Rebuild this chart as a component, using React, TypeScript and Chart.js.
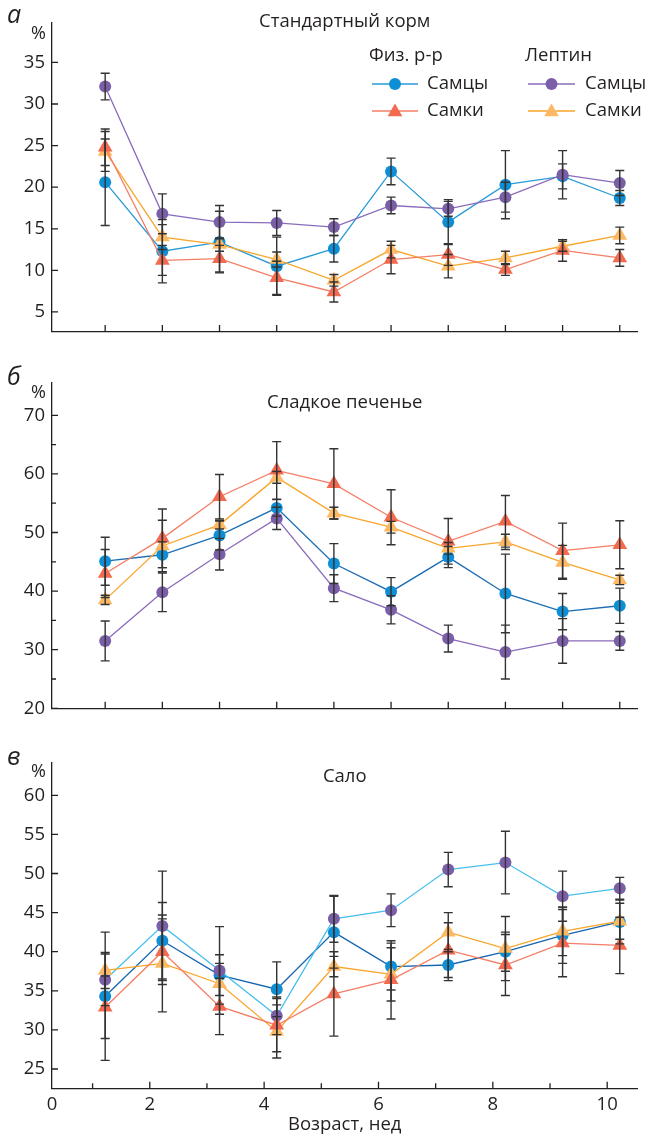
import React, { useEffect, useRef } from 'react';
import { Chart, registerables } from 'chart.js';

Chart.register(...registerables);

// ---------- data ----------
const weeks = [1.22, 2.22, 3.22, 4.22, 5.22, 6.22, 7.22, 8.22, 9.22, 10.22];
const xAxisStart = 0.29;
const xAxisEnd = 10.53;
const xWeekTicks = [1, 2, 3, 4, 5, 6, 7, 8, 9, 10];

// а — Стандартный корм
const aSalineMale = [20.6, 12.3, 13.4, 10.5, 12.6, 21.9, 15.8, 20.3, 21.3, 18.7];
const aSalineMaleErr = [5.2, 3.8, 3.7, 3.5, 1.6, 1.6, 2.7, 4.1, 1.5, 0.9];
const aSalineFemale = [24.8, 11.2, 11.4, 9.1, 7.4, 11.3, 11.9, 10.1, 12.4, 11.5];
const aSalineFemaleErr = [2.2, 1.8, 1.6, 2.0, 1.2, 1.7, 1.3, 0.7, 1.3, 1.0];
const aLeptinMale = [32.1, 16.8, 15.8, 15.7, 15.2, 17.8, 17.4, 18.8, 21.5, 20.5];
const aLeptinMaleErr = [1.6, 2.4, 2.0, 1.5, 1.0, 1.0, 0.9, 1.8, 2.9, 1.5];
const aLeptinFemale = [24.3, 14.0, 13.1, 11.3, 8.8, 12.5, 10.5, 11.5, 12.9, 14.2];
const aLeptinFemaleErr = [2.4, 1.5, 0.8, 0.9, 0.7, 1.0, 1.4, 0.8, 0.6, 1.0];

// б — Сладкое печенье
const bSalineMale = [45.1, 46.2, 49.5, 54.2, 44.7, 39.9, 45.8, 39.6, 36.5, 37.5];
const bSalineMaleErr = [4.1, 2.2, 2.5, 1.4, 3.4, 2.4, 1.8, 6.7, 3.1, 3.0];
const bSalineFemale = [43.0, 49.0, 56.1, 60.6, 58.3, 52.6, 48.5, 51.9, 46.9, 47.9];
const bSalineFemaleErr = [4.1, 5.0, 3.8, 4.9, 6.0, 4.7, 3.9, 4.4, 4.7, 4.1];
const bLeptinMale = [31.5, 39.8, 46.3, 52.4, 40.5, 36.8, 31.9, 29.6, 31.5, 31.5];
const bLeptinMaleErr = [3.4, 3.3, 2.7, 1.9, 2.3, 2.4, 2.3, 4.6, 3.8, 1.6];
const bLeptinFemale = [38.5, 47.7, 51.3, 59.4, 53.3, 50.9, 47.3, 48.4, 44.9, 41.9];
const bLeptinFemaleErr = [0.8, 4.4, 0.7, 1.0, 1.0, 1.0, 1.0, 1.3, 2.9, 0.8];

// в — Сало
const cSalineMale = [34.3, 41.4, 37.0, 35.2, 42.5, 38.1, 38.3, 40.0, 42.1, 43.8];
const cSalineMaleErr = [8.2, 4.9, 2.6, 3.5, 4.6, 3.0, 2.0, 2.5, 3.6, 2.8];
const cSalineFemale = [32.9, 40.0, 33.0, 30.6, 34.6, 36.4, 40.2, 38.3, 41.1, 40.8];
const cSalineFemaleErr = [4.0, 4.2, 3.6, 3.4, 5.4, 5.0, 3.5, 3.9, 4.3, 3.6];
const cLeptinMale = [36.4, 43.3, 37.6, 31.8, 44.2, 45.3, 50.5, 51.4, 47.1, 48.1];
const cLeptinMaleErr = [3.3, 7.0, 5.6, 2.4, 3.0, 2.1, 2.2, 4.0, 3.2, 1.4];
const cLeptinFemale = [37.6, 38.5, 35.9, 29.8, 38.1, 37.1, 42.5, 40.4, 42.6, 43.9];
const cLeptinFemaleErr = [2.3, 6.2, 2.6, 3.4, 1.3, 3.4, 2.5, 4.1, 3.1, 2.3];

const aYTicks = [5, 10, 15, 20, 25, 30, 35];
const bYTicks = [20, 30, 40, 50, 60, 70];
const bYMinor = [25, 35, 45, 55, 65];
const cYTicks = [25, 30, 35, 40, 45, 50, 55, 60];

// ---------- style ----------
const FONT = '"Open Sans", "Noto Sans", sans-serif';
const FS = 18.5;
const TEXT = '#231f20';
const ERR = '#333333';
const C_SM = '#0e8fd5';
const C_SF = '#f26a4f';
const C_LM = '#7b5ea8';
const C_LF = '#fdb863';
const L_SF = '#f47e66';
const L_LF = '#f9a52a';

type Series = {
  label: string;
  values: number[];
  errors: number[];
  color: string;
  lineColor: string;
  style: 'circle' | 'triangle';
  order: number;
};

type Panel = {
  key: string;
  top: number;
  height: number;
  areaTop: number;
  areaBottom: number;
  yMin: number;
  yMax: number;
  yTicks: number[];
  yMinor: number[];
  letter: string;
  letterBaseline: number;
  percentBaseline: number;
  title: string;
  titleBaseline: number;
  legend: boolean;
  xLabels: boolean;
  series: Series[];
};

const mk = (
  sm: number[], smE: number[], sf: number[], sfE: number[],
  lm: number[], lmE: number[], lf: number[], lfE: number[],
  smLine: string, lmLine: string
): Series[] => [
  { label: 'Физ. р-р Самцы', values: sm, errors: smE, color: C_SM, lineColor: smLine, style: 'circle', order: 4 },
  { label: 'Лептин Самцы', values: lm, errors: lmE, color: C_LM, lineColor: lmLine, style: 'circle', order: 3 },
  { label: 'Лептин Самки', values: lf, errors: lfE, color: C_LF, lineColor: L_LF, style: 'triangle', order: 2 },
  { label: 'Физ. р-р Самки', values: sf, errors: sfE, color: C_SF, lineColor: L_SF, style: 'triangle', order: 1 },
];

const panels: Panel[] = [
  {
    key: 'a', top: 0, height: 340, areaTop: 23, areaBottom: 334,
    yMin: 2.65, yMax: 39.74, yTicks: aYTicks, yMinor: [],
    letter: 'а', letterBaseline: 23, percentBaseline: 39,
    title: 'Стандартный корм', titleBaseline: 27, legend: true, xLabels: false,
    series: mk(aSalineMale, aSalineMaleErr, aSalineFemale, aSalineFemaleErr,
      aLeptinMale, aLeptinMaleErr, aLeptinFemale, aLeptinFemaleErr, '#2a9ad8', '#8a6bbb'),
  },
  {
    key: 'b', top: 340, height: 380, areaTop: 42.7, areaBottom: 368.3,
    yMin: 20, yMax: 75.56, yTicks: bYTicks, yMinor: bYMinor,
    letter: 'б', letterBaseline: 45, percentBaseline: 58,
    title: 'Сладкое печенье', titleBaseline: 68, legend: false, xLabels: false,
    series: mk(bSalineMale, bSalineMaleErr, bSalineFemale, bSalineFemaleErr,
      bLeptinMale, bLeptinMaleErr, bLeptinFemale, bLeptinFemaleErr, '#1c6db4', '#8a6bbb'),
  },
  {
    key: 'c', top: 720, height: 417, areaTop: 42.7, areaBottom: 368.3,
    yMin: 22.53, yMax: 64.17, yTicks: cYTicks, yMinor: [],
    letter: 'в', letterBaseline: 45, percentBaseline: 57,
    title: 'Сало', titleBaseline: 62, legend: false, xLabels: true,
    series: mk(cSalineMale, cSalineMaleErr, cSalineFemale, cSalineFemaleErr,
      cLeptinMale, cLeptinMaleErr, cLeptinFemale, cLeptinFemaleErr, '#1565b0', '#45bfee'),
  },
];

function drawMarker(ctx: CanvasRenderingContext2D, style: string, x: number, y: number, color: string) {
  ctx.fillStyle = color;
  ctx.beginPath();
  if (style === 'circle') {
    ctx.arc(x, y, 6, 0, Math.PI * 2);
  } else {
    const r = 8.5;
    ctx.moveTo(x, y - r);
    ctx.lineTo(x + r * Math.sin((2 * Math.PI) / 3), y - r * Math.cos((2 * Math.PI) / 3));
    ctx.lineTo(x + r * Math.sin((4 * Math.PI) / 3), y - r * Math.cos((4 * Math.PI) / 3));
    ctx.closePath();
  }
  ctx.fill();
}

function decorPlugin(p: Panel) {
  return {
    id: 'decor_' + p.key,
    afterDatasetsDraw(chart: any) {
      const ctx: CanvasRenderingContext2D = chart.ctx;
      const xs = chart.scales.x;
      const ys = chart.scales.y;
      ctx.save();
      ctx.strokeStyle = ERR;
      ctx.lineWidth = 1.4;
      p.series.forEach((s) => {
        s.values.forEach((v, i) => {
          const x = xs.getPixelForValue(weeks[i]);
          const y1 = ys.getPixelForValue(v + s.errors[i]);
          const y2 = ys.getPixelForValue(v - s.errors[i]);
          ctx.beginPath();
          ctx.moveTo(x, y1);
          ctx.lineTo(x, y2);
          ctx.moveTo(x - 4.5, y1);
          ctx.lineTo(x + 4.5, y1);
          ctx.moveTo(x - 4.5, y2);
          ctx.lineTo(x + 4.5, y2);
          ctx.stroke();
        });
      });
      ctx.restore();
    },
    afterDraw(chart: any) {
      const ctx: CanvasRenderingContext2D = chart.ctx;
      const xs = chart.scales.x;
      const ys = chart.scales.y;
      const area = chart.chartArea;
      ctx.save();
      // inward tick marks
      ctx.strokeStyle = TEXT;
      ctx.lineWidth = 1.3;
      ctx.beginPath();
      p.yTicks.forEach((v) => {
        const y = ys.getPixelForValue(v);
        ctx.moveTo(area.left, y);
        ctx.lineTo(area.left + 6, y);
      });
      p.yMinor.forEach((v) => {
        const y = ys.getPixelForValue(v);
        ctx.moveTo(area.left, y);
        ctx.lineTo(area.left + 4, y);
      });
      const xTickVals = p.xLabels ? xWeekTicks : weeks;
      xTickVals.forEach((v) => {
        const x = xs.getPixelForValue(v);
        const len = p.xLabels && v % 2 === 1 ? 5 : 6.5;
        ctx.moveTo(x, area.bottom);
        ctx.lineTo(x, area.bottom - len);
      });
      ctx.stroke();

      // texts
      ctx.fillStyle = TEXT;
      ctx.textBaseline = 'alphabetic';
      ctx.textAlign = 'left';
      ctx.font = `italic 25px ${FONT}`;
      ctx.fillText(p.letter, 7, p.letterBaseline);
      ctx.font = `18px ${FONT}`;
      ctx.fillText('%', 31, p.percentBaseline);
      ctx.font = `${FS}px ${FONT}`;
      ctx.textAlign = 'center';
      ctx.fillText(p.title, (area.left + area.right) / 2, p.titleBaseline);

      if (p.legend) {
        ctx.textAlign = 'left';
        ctx.textBaseline = 'middle';
        ctx.font = `${FS}px ${FONT}`;
        ctx.fillText('Физ. р-р', 369, 56);
        ctx.fillText('Лептин', 525, 56);
        const rows = [
          { y: 84, text: 'Самцы' },
          { y: 111, text: 'Самки' },
        ];
        const cols = [
          { x0: 372, x1: 418, mx: 395, tx: 427, male: p.series[0], female: p.series[3] },
          { x0: 528, x1: 575, mx: 551.5, tx: 585, male: p.series[1], female: p.series[2] },
        ];
        cols.forEach((c) => {
          [c.male, c.female].forEach((s, ri) => {
            const y = rows[ri].y;
            ctx.strokeStyle = s.lineColor;
            ctx.lineWidth = 1.3;
            ctx.beginPath();
            ctx.moveTo(c.x0, y);
            ctx.lineTo(c.x1, y);
            ctx.stroke();
            drawMarker(ctx, s.style, c.mx, s.style === 'triangle' ? y + 1 : y, s.color);
            ctx.fillStyle = TEXT;
            ctx.fillText(rows[ri].text, c.tx, y);
          });
        });
      }
      ctx.restore();
    },
  };
}

function buildConfig(p: Panel): any {
  return {
    type: 'line',
    data: {
      datasets: p.series.map((s) => ({
        label: s.label,
        data: weeks.map((w, i) => ({ x: w, y: s.values[i] })),
        borderColor: s.lineColor,
        backgroundColor: s.color,
        pointBackgroundColor: s.color,
        pointBorderColor: s.color,
        pointBorderWidth: 0,
        pointStyle: s.style,
        pointRadius: s.style === 'triangle' ? 8.5 : 6,
        pointHoverRadius: s.style === 'triangle' ? 8.5 : 6,
        borderWidth: 1.3,
        tension: 0,
        order: s.order,
        clip: false,
      })),
    },
    options: {
      responsive: false,
      animation: false,
      devicePixelRatio: 1,
      events: [],
      layout: { padding: { top: p.areaTop, left: 0, right: 0, bottom: 0 } },
      plugins: {
        legend: { display: false },
        tooltip: { enabled: false },
        title: { display: false },
      },
      scales: {
        x: {
          type: 'linear',
          min: xAxisStart,
          max: xAxisEnd,
          grid: { display: false, drawTicks: false },
          border: { display: true, color: TEXT, width: 1.3 },
          afterBuildTicks: (s: any) => {
            s.ticks = (p.xLabels ? [xAxisStart, ...xWeekTicks] : weeks).map((v) => ({ value: v }));
          },
          ticks: {
            display: p.xLabels,
            autoSkip: false,
            maxRotation: 0,
            padding: 5,
            color: TEXT,
            font: { family: FONT, size: FS },
            callback: (v: number) => (v === xAxisStart ? '0' : v % 2 === 0 ? String(v) : ''),
          },
          title: {
            display: p.xLabels,
            text: 'Возраст, нед',
            color: TEXT,
            font: { family: FONT, size: FS },
            padding: { top: 0, bottom: 1 },
          },
          afterFit: (s: any) => {
            s.height = p.height - p.areaBottom;
            s.paddingLeft = 0;
            s.paddingRight = 0;
          },
        },
        y: {
          type: 'linear',
          min: p.yMin,
          max: p.yMax,
          grid: { display: false, drawTicks: false },
          border: { display: true, color: TEXT, width: 1.3 },
          afterBuildTicks: (s: any) => {
            s.ticks = p.yTicks.map((v) => ({ value: v }));
          },
          ticks: {
            padding: 7,
            color: TEXT,
            font: { family: FONT, size: FS },
          },
          afterFit: (s: any) => {
            s.width = 52;
            s.paddingTop = 0;
            s.paddingBottom = 0;
          },
        },
      },
    },
    plugins: [decorPlugin(p)],
  };
}

function PanelChart({ p }: { p: Panel }) {
  const ref = useRef<HTMLCanvasElement>(null);
  useEffect(() => {
    if (!ref.current) return;
    const chart = new Chart(ref.current, buildConfig(p));
    return () => chart.destroy();
  }, [p]);
  return (
    <canvas
      ref={ref}
      width={646}
      height={p.height}
      style={{ position: 'absolute', left: 0, top: p.top, width: 646, height: p.height, display: 'block' }}
    />
  );
}

export default function App() {
  return (
    <div style={{ position: 'absolute', left: 0, top: 0, width: 646, height: 1137, background: '#ffffff' }}>
      {panels.map((p) => (
        <PanelChart key={p.key} p={p} />
      ))}
    </div>
  );
}
